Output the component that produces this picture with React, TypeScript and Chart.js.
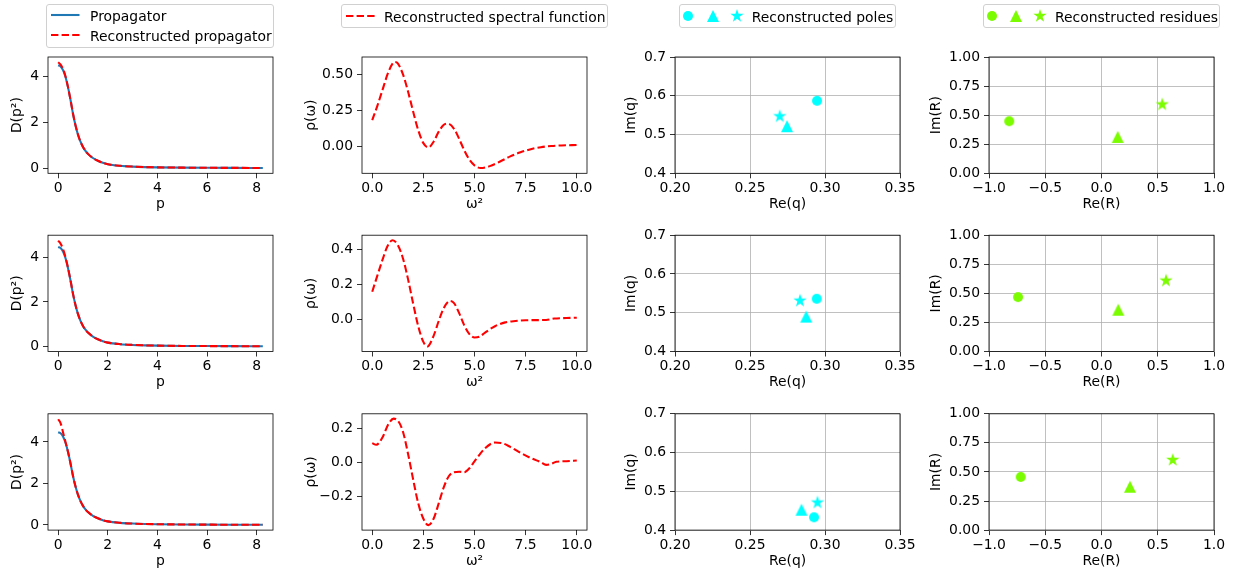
import React, { useEffect, useRef } from "react";
import { Chart, registerables } from "chart.js";

Chart.register(...registerables);

// ---------------- data ----------------
const momentum = [0, 0.1, 0.2, 0.3, 0.4, 0.5, 0.6, 0.7, 0.8, 0.9, 1.0, 1.1, 1.2, 1.4, 1.6, 1.8, 2.0, 2.5, 3.0, 3.5, 4.0, 5.0, 6.0, 7.0, 8.25];
const propagator = [4.47, 4.42, 4.25, 3.95, 3.5, 2.95, 2.35, 1.85, 1.45, 1.15, 0.92, 0.75, 0.62, 0.44, 0.32, 0.23, 0.17, 0.1, 0.065, 0.045, 0.034, 0.021, 0.014, 0.01, 0.008];
const reconPropRow1 = [4.6, 4.5, 4.3, 3.97, 3.5, 2.95, 2.35, 1.85, 1.45, 1.15, 0.92, 0.75, 0.62, 0.44, 0.32, 0.23, 0.17, 0.1, 0.065, 0.045, 0.034, 0.021, 0.014, 0.01, 0.008];
const reconPropRow2 = [4.76, 4.62, 4.36, 3.99, 3.51, 2.95, 2.35, 1.85, 1.45, 1.15, 0.92, 0.75, 0.62, 0.44, 0.32, 0.23, 0.17, 0.1, 0.065, 0.045, 0.034, 0.021, 0.014, 0.01, 0.008];
const reconPropRow3 = [5.1, 4.9, 4.45, 3.98, 3.5, 2.95, 2.35, 1.85, 1.45, 1.15, 0.92, 0.75, 0.62, 0.44, 0.32, 0.23, 0.17, 0.1, 0.065, 0.045, 0.034, 0.021, 0.014, 0.01, 0.008];

const omegaRow1 = [0, 0.25, 0.5, 0.75, 1.0, 1.1, 1.25, 1.5, 1.75, 2.0, 2.25, 2.5, 2.75, 3.0, 3.25, 3.5, 3.7, 4.0, 4.25, 4.5, 4.75, 5.0, 5.3, 5.75, 6.25, 6.75, 7.25, 7.75, 8.25, 8.75, 9.25, 10];
const rhoRow1 = [0.18, 0.28, 0.39, 0.5, 0.575, 0.586, 0.575, 0.5, 0.38, 0.24, 0.11, 0.02, -0.01, 0.03, 0.1, 0.148, 0.156, 0.12, 0.05, -0.03, -0.095, -0.135, -0.153, -0.14, -0.108, -0.072, -0.044, -0.022, -0.008, 0.0, 0.004, 0.007];
const omegaRow2 = [0, 0.25, 0.5, 0.75, 1.0, 1.25, 1.5, 1.75, 2.0, 2.25, 2.5, 2.7, 3.0, 3.25, 3.5, 3.8, 4.0, 4.25, 4.5, 4.75, 5.0, 5.25, 5.5, 6.0, 6.5, 7.0, 7.5, 8.0, 8.5, 8.9, 9.5, 10];
const rhoRow2 = [0.158, 0.25, 0.34, 0.42, 0.453, 0.425, 0.35, 0.23, 0.09, -0.04, -0.13, -0.156, -0.095, -0.01, 0.065, 0.105, 0.092, 0.035, -0.035, -0.085, -0.105, -0.1, -0.078, -0.04, -0.018, -0.01, -0.006, -0.005, -0.004, 0.004, 0.007, 0.009];
const omegaRow3 = [0, 0.2, 0.5, 0.8, 1.05, 1.3, 1.5, 1.75, 2.0, 2.25, 2.5, 2.75, 3.0, 3.25, 3.5, 3.75, 4.0, 4.25, 4.5, 4.75, 5.0, 5.5, 6.0, 6.3, 6.75, 7.25, 7.75, 8.25, 8.5, 8.75, 9.0, 9.5, 10];
const rhoRow3 = [0.112, 0.102, 0.145, 0.225, 0.255, 0.235, 0.18, 0.05, -0.1, -0.24, -0.33, -0.367, -0.33, -0.24, -0.145, -0.08, -0.058, -0.055, -0.058, -0.035, 0.005, 0.08, 0.115, 0.113, 0.09, 0.055, 0.025, 0.0, -0.015, -0.01, 0.003, 0.006, 0.01];

// markers order: circle, triangle, star
const poleReRow1 = [0.2947, 0.2747, 0.2698];
const poleImRow1 = [0.587, 0.5215, 0.547];
const poleReRow2 = [0.2945, 0.2875, 0.2833];
const poleImRow2 = [0.536, 0.49, 0.531];
const poleReRow3 = [0.2927, 0.2843, 0.295];
const poleImRow3 = [0.433, 0.4525, 0.471];

const resReRow1 = [-0.82, 0.144, 0.54];
const resImRow1 = [0.448, 0.313, 0.592];
const resReRow2 = [-0.742, 0.149, 0.573];
const resImRow2 = [0.468, 0.359, 0.609];
const resReRow3 = [-0.718, 0.253, 0.633];
const resImRow3 = [0.457, 0.373, 0.603];

// ticks
const propXTicks = [0, 2, 4, 6, 8];
const propXLabels = ["0", "2", "4", "6", "8"];
const propYTicks = [0, 2, 4];
const propYLabels = ["0", "2", "4"];
const specXTicks = [0, 2.5, 5, 7.5, 10];
const specXLabels = ["0.0", "2.5", "5.0", "7.5", "10.0"];
const specYTicksRow1 = [0, 0.25, 0.5];
const specYLabelsRow1 = ["0.00", "0.25", "0.50"];
const specYTicksRow2 = [0, 0.2, 0.4];
const specYLabelsRow2 = ["0.0", "0.2", "0.4"];
const specYTicksRow3 = [-0.2, 0, 0.2];
const specYLabelsRow3 = ["\u22120.2", "0.0", "0.2"];
const poleXTicks = [0.2, 0.25, 0.3, 0.35];
const poleXLabels = ["0.20", "0.25", "0.30", "0.35"];
const poleYTicks = [0.4, 0.5, 0.6, 0.7];
const poleYLabels = ["0.4", "0.5", "0.6", "0.7"];
const resXTicks = [-1, -0.5, 0, 0.5, 1];
const resXLabels = ["\u22121.0", "\u22120.5", "0.0", "0.5", "1.0"];
const resYTicks = [0, 0.25, 0.5, 0.75, 1];
const resYLabels = ["0.00", "0.25", "0.50", "0.75", "1.00"];

// axis ranges
const propXRange = [-0.41, 8.66];
const propYRanges = [[-0.225, 4.83], [-0.23, 5.0], [-0.25, 5.36]];
const specXRange = [-0.5, 10.5];
const specYRanges = [[-0.19, 0.62], [-0.185, 0.482], [-0.396, 0.283]];
const poleXRange = [0.2, 0.35];
const poleYRange = [0.4, 0.7];
const resXRange = [-1, 1];
const resYRange = [0, 1];

// ---------------- styling / layout ----------------
const FAMILY = "'DejaVu Sans', 'Liberation Sans', sans-serif";
const FS = 13.9;
const LH = 1.2;
const BLUE = "#1f77b4";
const RED = "#ff0000";
const CYAN = "#00ffff";
const GREEN = "#7cfc00";
const DASH = [7.4, 3.2];

const COL_LEFT = [48, 362, 675, 989];
const ROW_TOP = [57, 235.2, 413.8];
const PLOT_W = 225;
const PLOT_H = 116.3;
const Y_TITLE_CENTER = [17.5, 311.5, 631.7, 936.7];
const XH = 39.5;

function starPts(cx: number, cy: number, R: number, r: number): number[][] {
  const pts: number[][] = [];
  for (let i = 0; i < 10; i++) {
    const ang = -Math.PI / 2 + (i * Math.PI) / 5;
    const rad = i % 2 === 0 ? R : r;
    pts.push([cx + rad * Math.cos(ang), cy + rad * Math.sin(ang)]);
  }
  return pts;
}

const markerCache: Record<string, HTMLCanvasElement> = {};
function markerCanvas(shape: string, color: string): HTMLCanvasElement {
  const key = shape + color;
  if (markerCache[key]) return markerCache[key];
  const size = shape === "star" ? 16 : 14;
  const c = document.createElement("canvas");
  c.width = size;
  c.height = size;
  const ctx = c.getContext("2d")!;
  const m = size / 2;
  ctx.fillStyle = color;
  ctx.beginPath();
  if (shape === "circle") {
    ctx.arc(m, m, 5, 0, Math.PI * 2);
  } else if (shape === "triangle") {
    ctx.moveTo(m, m - 6);
    ctx.lineTo(m + 6, m + 6);
    ctx.lineTo(m - 6, m + 6);
    ctx.closePath();
  } else {
    starPts(m, m, 7, 2.67).forEach(([x, y], i) => (i ? ctx.lineTo(x, y) : ctx.moveTo(x, y)));
    ctx.closePath();
  }
  ctx.fill();
  markerCache[key] = c;
  return c;
}

type AxisSpec = { range: number[]; ticks: number[]; labels: string[]; title: string; grid: boolean };
type PanelSpec = { row: number; col: number; kind: "line" | "scatter"; x: AxisSpec; y: AxisSpec; datasets: () => any[] };

const framePlugin = {
  id: "frame",
  afterDraw(chart: any) {
    const { ctx, chartArea: a } = chart;
    ctx.save();
    ctx.strokeStyle = "#000";
    ctx.lineWidth = 0.8;
    ctx.strokeRect(a.left, a.top, a.right - a.left, a.bottom - a.top);
    ctx.restore();
  },
};

function zip(xs: number[], ys: number[]) {
  return xs.map((x, i) => ({ x, y: ys[i] }));
}

function lineDs(xs: number[], ys: number[], color: string, dashed: boolean, order: number) {
  return {
    data: zip(xs, ys),
    borderColor: color,
    backgroundColor: color,
    borderWidth: 2.08,
    borderDash: dashed ? DASH : [],
    pointRadius: 0,
    fill: false,
    cubicInterpolationMode: "monotone",
    order,
  };
}

function markerDs(re: number[], im: number[], color: string) {
  const shapes = ["circle", "triangle", "star"];
  return shapes.map((s, i) => ({
    data: [{ x: re[i], y: im[i] }],
    pointStyle: markerCanvas(s, color),
    pointRadius: 6,
    pointHoverRadius: 6,
    backgroundColor: color,
    borderColor: color,
  }));
}

function scaleOpts(ax: AxisSpec, isX: boolean, size: number, titlePad: number) {
  return {
    type: "linear",
    position: isX ? "bottom" : "left",
    min: ax.range[0],
    max: ax.range[1],
    afterBuildTicks: (s: any) => {
      s.ticks = ax.ticks.map((v) => ({ value: v }));
    },
    afterFit: (s: any) => {
      if (isX) s.height = size;
      else s.width = size;
    },
    ticks: {
      autoSkip: false,
      maxRotation: 0,
      minRotation: 0,
      padding: isX ? 2 : 4,
      color: "#000",
      font: { family: FAMILY, size: FS, lineHeight: LH },
      callback: (_v: any, i: number) => ax.labels[i],
    },
    grid: {
      display: true,
      drawOnChartArea: ax.grid,
      color: "#b0b0b0",
      lineWidth: 0.8,
      drawTicks: true,
      tickLength: 5,
      tickColor: "#000",
      tickWidth: 0.8,
    },
    border: { display: false },
    title: {
      display: true,
      text: ax.title,
      color: "#000",
      font: { family: FAMILY, size: FS, lineHeight: LH },
      padding: isX ? { top: 0, bottom: 0 } : { top: titlePad, bottom: 0 },
    },
  };
}

function geometry(spec: PanelSpec) {
  const plotLeft = COL_LEFT[spec.col];
  const plotTop = ROW_TOP[spec.row];
  const canvasLeft = Math.floor(Y_TITLE_CENTER[spec.col] - 10);
  const yw = plotLeft - canvasLeft;
  const titlePad = Y_TITLE_CENTER[spec.col] - canvasLeft - (FS * LH) / 2;
  const canvasTop = Math.floor(plotTop) - 14;
  const pt = plotTop - canvasTop;
  const cw = Math.ceil(yw + PLOT_W + 28);
  const padRight = cw - yw - PLOT_W;
  const ch = Math.ceil(pt + PLOT_H + XH + 2);
  const padBottom = ch - pt - PLOT_H - XH;
  return { canvasLeft, canvasTop, cw, ch, yw, pt, padRight, padBottom, titlePad };
}

function Panel({ spec }: { spec: PanelSpec }) {
  const ref = useRef<HTMLCanvasElement>(null);
  const g = geometry(spec);
  useEffect(() => {
    const cfg: any = {
      type: spec.kind,
      data: { datasets: spec.datasets() },
      options: {
        animation: false,
        responsive: false,
        maintainAspectRatio: false,
        events: [],
        layout: {
          autoPadding: false,
          padding: { left: 0, top: g.pt, right: g.padRight, bottom: g.padBottom },
        },
        plugins: { legend: { display: false }, tooltip: { enabled: false } },
        scales: {
          x: scaleOpts(spec.x, true, XH, 0),
          y: scaleOpts(spec.y, false, g.yw, g.titlePad),
        },
      },
      plugins: [framePlugin],
    };
    const chart = new Chart(ref.current!, cfg);
    return () => chart.destroy();
  }, []);
  return (
    <div style={{ position: "absolute", left: g.canvasLeft, top: g.canvasTop, width: g.cw, height: g.ch }}>
      <canvas ref={ref} width={g.cw} height={g.ch} style={{ width: g.cw, height: g.ch, display: "block" }} />
    </div>
  );
}

const reconRows = [reconPropRow1, reconPropRow2, reconPropRow3];
const omegaRows = [omegaRow1, omegaRow2, omegaRow3];
const rhoRows = [rhoRow1, rhoRow2, rhoRow3];
const specYTickRows = [specYTicksRow1, specYTicksRow2, specYTicksRow3];
const specYLabelRows = [specYLabelsRow1, specYLabelsRow2, specYLabelsRow3];
const poleRe = [poleReRow1, poleReRow2, poleReRow3];
const poleIm = [poleImRow1, poleImRow2, poleImRow3];
const resRe = [resReRow1, resReRow2, resReRow3];
const resIm = [resImRow1, resImRow2, resImRow3];

const panels: PanelSpec[] = [];
for (let r = 0; r < 3; r++) {
  panels.push({
    row: r, col: 0, kind: "line",
    x: { range: propXRange, ticks: propXTicks, labels: propXLabels, title: "p", grid: false },
    y: { range: propYRanges[r], ticks: propYTicks, labels: propYLabels, title: "D(p\u00b2)", grid: false },
    datasets: () => [lineDs(momentum, reconRows[r], RED, true, 0), lineDs(momentum, propagator, BLUE, false, 1)],
  });
  panels.push({
    row: r, col: 1, kind: "line",
    x: { range: specXRange, ticks: specXTicks, labels: specXLabels, title: "\u03c9\u00b2", grid: false },
    y: { range: specYRanges[r], ticks: specYTickRows[r], labels: specYLabelRows[r], title: "\u03c1(\u03c9)", grid: false },
    datasets: () => [lineDs(omegaRows[r], rhoRows[r], RED, true, 0)],
  });
  panels.push({
    row: r, col: 2, kind: "scatter",
    x: { range: poleXRange, ticks: poleXTicks, labels: poleXLabels, title: "Re(q)", grid: true },
    y: { range: poleYRange, ticks: poleYTicks, labels: poleYLabels, title: "Im(q)", grid: true },
    datasets: () => markerDs(poleRe[r], poleIm[r], CYAN),
  });
  panels.push({
    row: r, col: 3, kind: "scatter",
    x: { range: resXRange, ticks: resXTicks, labels: resXLabels, title: "Re(R)", grid: true },
    y: { range: resYRange, ticks: resYTicks, labels: resYLabels, title: "Im(R)", grid: true },
    datasets: () => markerDs(resRe[r], resIm[r], GREEN),
  });
}

// ---------------- legends ----------------
const textStyle = (left: number, cy: number): React.CSSProperties => ({
  position: "absolute",
  left,
  top: cy - 7,
  lineHeight: "16px",
  fontSize: FS,
  fontFamily: FAMILY,
  color: "#000",
  whiteSpace: "nowrap",
});

function Box({ left, top, width, height }: { left: number; top: number; width: number; height: number }) {
  return (
    <div
      style={{
        position: "absolute", left, top, width, height, boxSizing: "border-box",
        border: "1px solid #d0d0d0", borderRadius: 3, background: "rgba(255,255,255,0.8)",
      }}
    />
  );
}

function MarkerSvg({ shape, color, cx, cy }: { shape: string; color: string; cx: number; cy: number }) {
  const s = 16;
  const m = s / 2;
  let el: React.ReactNode;
  if (shape === "circle") el = <circle cx={m} cy={m} r={5} fill={color} />;
  else if (shape === "triangle") el = <polygon points={`${m},${m - 6} ${m + 6},${m + 6} ${m - 6},${m + 6}`} fill={color} />;
  else el = <polygon points={starPts(m, m, 7, 2.67).map((p) => p.join(",")).join(" ")} fill={color} />;
  return (
    <svg width={s} height={s} style={{ position: "absolute", left: cx - m, top: cy - m }}>
      {el}
    </svg>
  );
}

function LineSample({ x1, x2, y, color, dashed }: { x1: number; x2: number; y: number; color: string; dashed: boolean }) {
  return (
    <svg width={x2 - x1 + 4} height={8} style={{ position: "absolute", left: x1 - 2, top: y - 4 }}>
      <line x1={2} x2={x2 - x1 + 2} y1={4} y2={4} stroke={color} strokeWidth={2.08} strokeDasharray={dashed ? DASH.join(" ") : undefined} />
    </svg>
  );
}

function Legends() {
  return (
    <>
      <Box left={46} top={4} width={228} height={44} />
      <LineSample x1={51} x2={79.5} y={15} color={BLUE} dashed={false} />
      <LineSample x1={51} x2={79.5} y={35} color={RED} dashed={true} />
      <span style={textStyle(90, 15)}>Propagator</span>
      <span style={textStyle(90, 35)}>Reconstructed propagator</span>

      <Box left={341} top={4} width={267} height={24} />
      <LineSample x1={346} x2={376} y={15.5} color={RED} dashed={true} />
      <span style={textStyle(384, 15.5)}>Reconstructed spectral function</span>

      <Box left={679} top={4} width={217} height={24} />
      <MarkerSvg shape="circle" color={CYAN} cx={688.3} cy={15.7} />
      <MarkerSvg shape="triangle" color={CYAN} cx={712.7} cy={15.7} />
      <MarkerSvg shape="star" color={CYAN} cx={736.7} cy={15.7} />
      <span style={textStyle(751.7, 15.7)}>Reconstructed poles</span>

      <Box left={983} top={4} width={237} height={24} />
      <MarkerSvg shape="circle" color={GREEN} cx={992.3} cy={15.7} />
      <MarkerSvg shape="triangle" color={GREEN} cx={1016} cy={15.7} />
      <MarkerSvg shape="star" color={GREEN} cx={1040} cy={15.7} />
      <span style={textStyle(1055, 15.7)}>Reconstructed residues</span>
    </>
  );
}

export default function App() {
  return (
    <div
      style={{
        position: "absolute", left: 0, top: 0, width: 1235, height: 577,
        background: "#fff", overflow: "hidden", fontFamily: FAMILY,
      }}
    >
      {panels.map((p, i) => (
        <Panel key={i} spec={p} />
      ))}
      <Legends />
    </div>
  );
}
